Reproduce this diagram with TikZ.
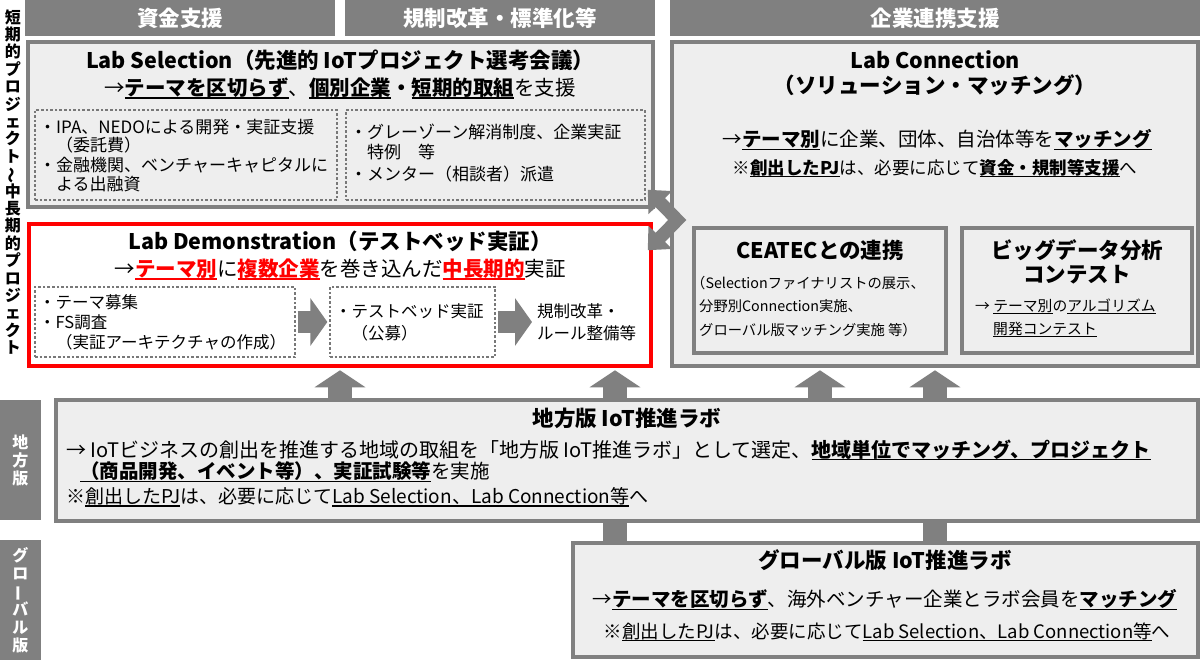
\documentclass[tikz,border=0pt]{standalone}
\usepackage{fontspec}
\setmainfont{Noto Sans CJK JP}
\usepackage{graphicx}
\usetikzlibrary{arrows.meta,calc}
\definecolor{gr}{RGB}{128,128,128}
\definecolor{lg}{RGB}{238,238,238}
\definecolor{rd}{RGB}{255,0,0}
\definecolor{dg}{RGB}{120,120,120}
\newcommand\fsz[1]{\fontsize{#1}{#1}\selectfont}
\newcommand\uln[1]{\setbox0=\hbox{#1}\rlap{\rule[-0.17em]{\wd0}{0.07em}}\box0}
\newcommand\rul[1]{{\color{rd}\uln{\bfseries #1}}}
\begin{document}
\begin{tikzpicture}[x=1pt,y=-1pt,
  hdr/.style={fill=gr,text=white,font=\fsz{21.5}\bfseries,inner sep=0,minimum height=36pt},
  gbox/.style={draw=gr,line width=3.5pt,fill=lg,inner sep=0},
  rbox/.style={draw=rd,line width=3.5pt,fill=white,inner sep=0},
  dbox/.style={draw=dg,line width=1.3pt,dash pattern=on 2.6pt off 2pt,inner sep=0},
  lbl/.style={fill=gr,text=white,inner sep=0,minimum width=41pt,minimum height=120pt,align=center,font=\fontsize{16}{18}\selectfont\bfseries},
  ttl/.style={inner sep=0,font=\fsz{21.5}\bfseries},
  ln/.style={inner sep=0,anchor=west},
  cl/.style={inner sep=0},
  upar/.style={draw=gr,line width=24pt,-{Triangle[length=17pt,width=50pt]}},
  rtar/.style={draw=gr,line width=21pt,-{Triangle[length=17pt,width=47pt]}},
  dblar/.style={draw=gr,line width=13pt,line join=miter,{Triangle[length=18pt,width=32pt]}-{Triangle[length=18pt,width=32pt]}},
  shaft/.style={draw=gr,line width=24pt}]
\useasboundingbox (0,0) rectangle (1202,660);

% headers
\node[hdr,minimum width=310pt] (h1) at (180,18) {資金支援};
\node[hdr,minimum width=310pt] (h2) at (500,18) {規制改革・標準化等};
\node[hdr,minimum width=530pt] (h3) at (935,18) {企業連携支援};

% left vertical text
\node[inner sep=0,align=center,font=\fontsize{16}{17.4}\selectfont\bfseries] (vt) at (13,182)
 {短\\期\\的\\プ\\ロ\\ジ\\ェ\\ク\\ト\\\rotatebox[origin=c]{90}{～}\\中\\長\\期\\的\\プ\\ロ\\ジ\\ェ\\ク\\ト};
\node[lbl] (lchiho) at (20.5,460) {地\\方\\版};
\node[lbl] (lglob) at (20.5,600) {グ\\ロ\\\rotatebox[origin=c]{90}{ー}\\バ\\ル\\版};

% main boxes
\node[gbox,minimum width=625pt,minimum height=165pt] (sel) at (340.5,124.5) {};
\node[rbox,minimum width=622pt,minimum height=142pt] (demo) at (340,295) {};
\node[gbox,minimum width=526pt,minimum height=324pt] (conn) at (935,204) {};
\node[gbox,minimum width=252pt,minimum height=125pt] (ceatec) at (820,290.5) {};
\node[gbox,minimum width=230pt,minimum height=125pt] (bigd) at (1077,290.5) {};
\node[gbox,minimum width=1142pt,minimum height=121pt] (chiho) at (627,460.5) {};
\node[gbox,minimum width=625pt,minimum height=114pt] (glob) at (885.5,600) {};

% Lab Selection
\node[ttl] (selt) at (340,60) {Lab Selection（先進的 IoTプロジェクト選考会議）};
\node[cl,font=\fsz{20.5}] (sels) at (340,88) {→\uln{\bfseries テーマを区切らず}、\uln{\bfseries 個別企業}\textbf{・}\uln{\bfseries 短期的取組}を支援};
\node[dbox,minimum width=302pt,minimum height=90pt] (ds1) at (186,155) {};
\node[dbox,minimum width=299pt,minimum height=90pt] (ds2) at (495.5,155) {};
\begin{scope}[every node/.append style={font=\fsz{17}}]
\node[ln] (s1) at (39,127) {・IPA、NEDOによる開発・実証支援};
\node[ln] (s2) at (56,145.5) {（委託費）};
\node[ln] (s3) at (39,165) {・金融機関、ベンチャーキャピタルに};
\node[ln] (s4) at (56,184) {よる出融資};
\node[ln] (s5) at (350,132) {・グレーゾーン解消制度、企業実証};
\node[ln] (s6) at (367,152.5) {特例　等};
\node[ln] (s7) at (350,174) {・メンター（相談者）派遣};
\end{scope}

% Lab Demonstration
\node[ttl] (demot) at (340,241) {Lab Demonstration（テストベッド実証）};
\node[cl,font=\fsz{20.5}] (demos) at (340,269) {→\rul{テーマ別}に\rul{複数企業}を巻き込んだ\rul{中長期的}実証};
\node[dbox,minimum width=260pt,minimum height=70pt] (dd1) at (165,322) {};
\node[dbox,minimum width=165pt,minimum height=70pt] (dd2) at (412.5,322) {};
\begin{scope}[every node/.append style={font=\fsz{16.5}}]
\node[ln] (d1) at (39,302) {・テーマ募集};
\node[ln] (d2) at (39,322) {・FS調査};
\node[ln] (d3) at (56,342) {（実証アーキテクチャの作成）};
\node[ln] (d4) at (335,311) {・テストベッド実証};
\node[ln] (d5) at (351.5,333) {（公募）};
\end{scope}
\node[ln,align=left,font=\fontsize{16.5}{22}\selectfont] (rt) at (537,322) {規制改革・\\ルール整備等};

% Lab Connection
\node[ttl] (connt1) at (935,60) {Lab Connection};
\node[ttl] (connt2) at (935,85) {（ソリューション・マッチング）};
\node[cl,font=\fsz{19.5}] (conn1) at (937,140) {→\uln{\bfseries テーマ別}に企業、団体、自治体等を\uln{\bfseries マッチング}};
\node[cl,font=\fsz{17.5}] (conn2) at (935,168) {※\uln{\bfseries 創出したPJ}は、必要に応じて\uln{\bfseries 資金・規制等支援}へ};

% CEATEC
\node[ttl] (ct) at (820,250) {CEATECとの連携};
\begin{scope}[every node/.append style={font=\fsz{14.3}}]
\node[ln] (c1) at (691,283) {（Selectionファイナリストの展示、};
\node[ln] (c2) at (699,306) {分野別Connection実施、};
\node[ln] (c3) at (699,330) {グローバル版マッチング実施 等）};
\end{scope}

% Big data
\node[ttl] (bt1) at (1077,250) {ビッグデータ分析};
\node[ttl] (bt2) at (1077,275) {コンテスト};
\begin{scope}[every node/.append style={font=\fsz{14.8}}]
\node[ln] (b1) at (975,306) {→ \uln{テーマ別}の\uln{アルゴリズム}};
\node[ln] (b2) at (993,330) {\uln{開発コンテスト}};
\end{scope}

% Chiho
\node[ttl] (cht) at (627,418) {地方版 IoT推進ラボ};
\node[ln,font=\fsz{20}] (ch1) at (66,450) {→ IoTビジネスの創出を推進する地域の取組を「地方版 IoT推進ラボ」として選定、\uln{\bfseries 地域単位でマッチング、プロジェクト}};
\node[ln,font=\fsz{19.5}] (ch2) at (80,472) {\uln{\bfseries （商品開発、イベント等）、実証試験等}を実施};
\node[ln,font=\fsz{19}] (ch3) at (66,497) {※\uln{創出したPJ}は、必要に応じて\uln{Lab Selection、Lab Connection等}へ};

% Global
\node[ttl] (gt) at (885,560) {グローバル版 IoT推進ラボ};
\node[cl,font=\fsz{19.5}] (g1) at (885,600) {→\uln{\bfseries テーマを区切らず}、海外ベンチャー企業とラボ会員を\uln{\bfseries マッチング}};
\node[cl,font=\fsz{18.5}] (g2) at (887,632) {※\uln{創出したPJ}は、必要に応じて\uln{Lab Selection、Lab Connection等}へ};

% connectors
\draw[upar,shorten >=2.5pt] (340,0 |- chiho.north) -- (340,0 |- demo.south);
\draw[upar,shorten >=2.5pt] (615,0 |- chiho.north) -- (615,0 |- demo.south);
\draw[upar,shorten >=2.5pt] (820,0 |- chiho.north) -- (820,0 |- conn.south);
\draw[upar,shorten >=2.5pt] (935,0 |- chiho.north) -- (935,0 |- conn.south);
\draw[shaft] (615,0 |- glob.north) -- (615,0 |- chiho.south);
\draw[shaft] (935,0 |- glob.north) -- (935,0 |- chiho.south);
\draw[rtar,shorten <=2pt,shorten >=2pt] (dd1.east) -- (dd2.west);
\draw[rtar,shorten <=2pt] (dd2.east) -- ($(rt.west)+(-5,0)$);
\coordinate (dA) at ($(sel.south east)+(-7,-19)$);
\coordinate (dV) at ($(conn.west)+(7,16)$);
\coordinate (dB) at ($(demo.north east)+(-5,28)$);
\draw[dblar] (dA) -- (dV) -- (dB);
\end{tikzpicture}
\end{document}
